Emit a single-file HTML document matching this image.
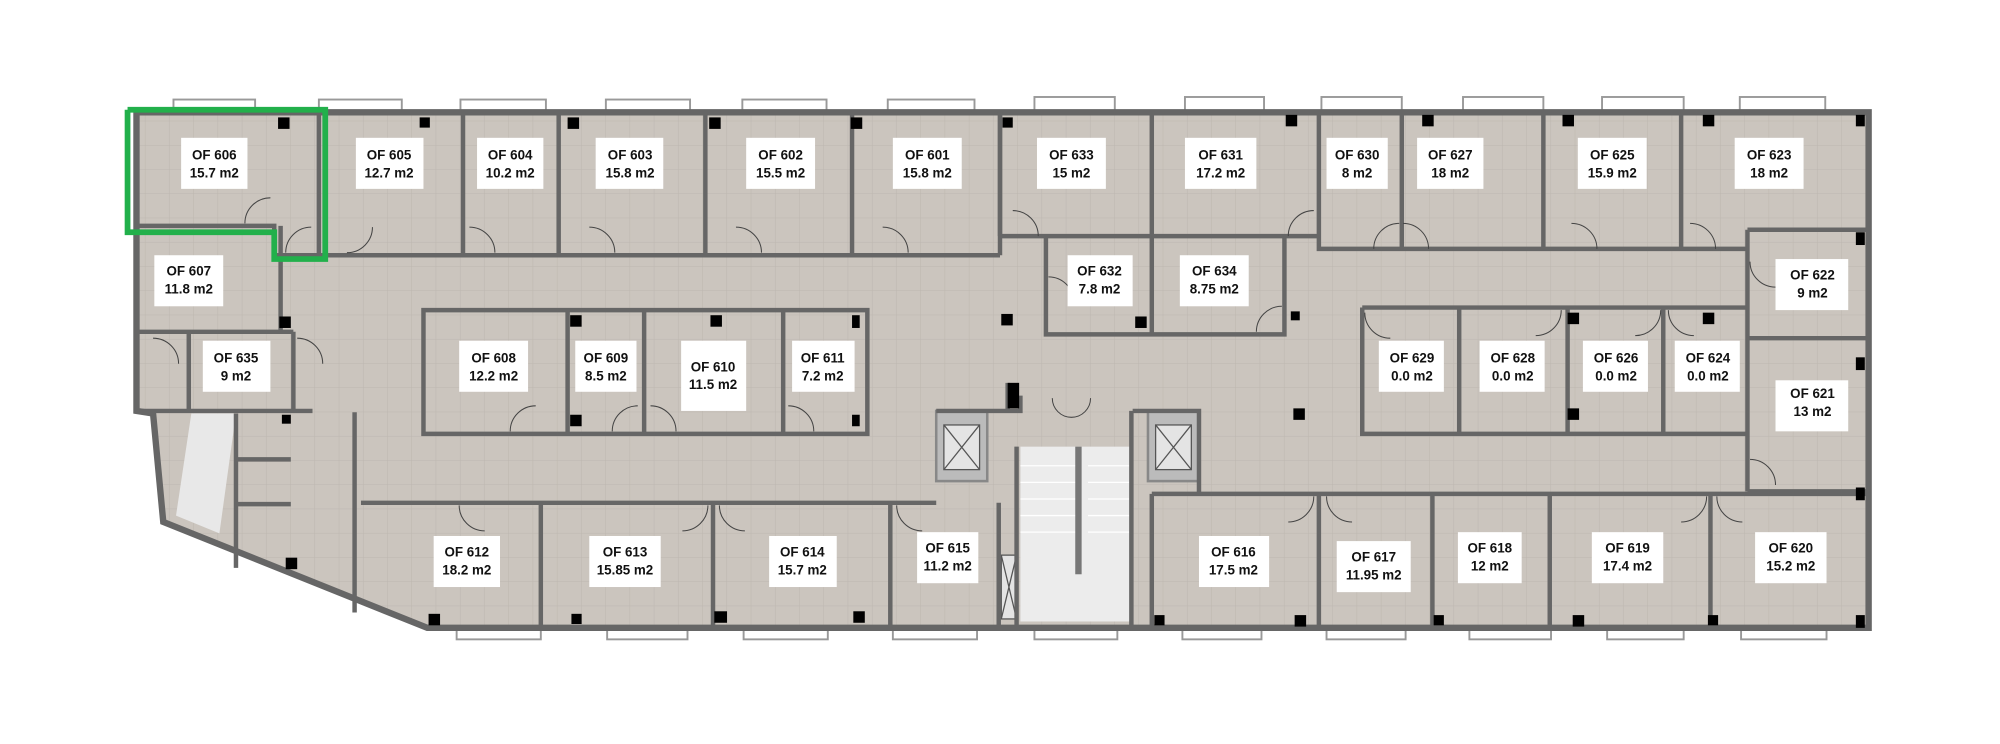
<!DOCTYPE html>
<html><head><meta charset="utf-8"><style>
html,body{margin:0;padding:0;background:#fff;}
svg{display:block}
text{font-family:"Liberation Sans Narrow","Liberation Sans",sans-serif;font-weight:bold;font-size:10.5px;fill:#111;text-anchor:middle}
</style></head><body>
<svg width="2000" height="744" viewBox="0 0 1568 583" preserveAspectRatio="none" xmlns="http://www.w3.org/2000/svg">
<defs>
<pattern id="t" width="19" height="19" patternUnits="userSpaceOnUse">
<rect width="19" height="19" fill="#cbc5be"/>
<path d="M19 0V19H0" fill="none" stroke="#bdb7b0" stroke-width="0.8"/>
</pattern>
</defs>
<polygon points="107,88 1465,88 1465,492 335,492 128,409 120,324 107,322" fill="url(#t)"/>
<!-- marble shaft -->
<polygon points="150,324 185,324 172,418 138,404" fill="#e8e8e8"/>
<!-- stairs -->
<rect x="800" y="350" width="87" height="137" fill="#ececec"/>
<g stroke="#fff" stroke-width="1">
<line x1="800" y1="365" x2="845" y2="365"/><line x1="800" y1="378" x2="845" y2="378"/><line x1="800" y1="391" x2="845" y2="391"/><line x1="800" y1="404" x2="845" y2="404"/><line x1="800" y1="417" x2="845" y2="417"/><line x1="853" y1="365" x2="887" y2="365"/><line x1="853" y1="378" x2="887" y2="378"/><line x1="853" y1="391" x2="887" y2="391"/><line x1="853" y1="404" x2="887" y2="404"/><line x1="853" y1="417" x2="887" y2="417"/>
</g>
<rect x="843" y="350" width="5" height="100" fill="#777"/>
<!-- elevators -->
<g fill="#bbb" stroke="#888" stroke-width="2">
<rect x="734" y="322" width="40" height="55"/><rect x="900" y="322" width="40" height="55"/>
</g>
<g fill="#e4e4e4" stroke="#555" stroke-width="1">
<rect x="740" y="333" width="28" height="35"/><rect x="906" y="333" width="28" height="35"/>
<path d="M740 333L768 368M768 333L740 368M906 333L934 368M934 333L906 368"/>
<rect x="785" y="435" width="12" height="50"/><path d="M785 435L797 485M797 435L785 485"/>
</g>
<!-- windows -->
<g fill="#fff" stroke="#999" stroke-width="1.5">
<rect x="136" y="78" width="64" height="10"/><rect x="250" y="78" width="65" height="10"/><rect x="361" y="78" width="67" height="10"/><rect x="475" y="78" width="66" height="10"/><rect x="582" y="78" width="66" height="10"/><rect x="696" y="78" width="68" height="10"/><rect x="811" y="76" width="63" height="12"/><rect x="929" y="76" width="62" height="12"/><rect x="1036" y="76" width="63" height="12"/><rect x="1147" y="76" width="63" height="12"/><rect x="1256" y="76" width="64" height="12"/><rect x="1364" y="76" width="67" height="12"/>
<rect x="358" y="491" width="66" height="10"/><rect x="476" y="491" width="63" height="10"/><rect x="583" y="491" width="66" height="10"/><rect x="700" y="491" width="66" height="10"/><rect x="811" y="491" width="65" height="10"/><rect x="927" y="491" width="62" height="10"/><rect x="1040" y="491" width="62" height="10"/><rect x="1152" y="491" width="64" height="10"/><rect x="1260" y="491" width="60" height="10"/><rect x="1365" y="491" width="67" height="10"/>
</g>
<!-- outer walls -->
<polyline points="107,88 1465,88 1465,492 335,492 128,409 120,324 107,322 107,88" fill="none" stroke="#666" stroke-width="5"/>
<!-- interior walls -->
<g stroke="#666" stroke-width="3.5" fill="none">
<path d="M107 177H215V200H784"/>
<path d="M250 88V200M363 88V200M438 88V200M553 88V200M668 88V200M784 88V200"/>
<path d="M784 185H1034M784 88V185M903 88V185M1034 88V195H1370M1099 88V195M1210 88V195M1318 88V195"/>
<path d="M1370 180H1465M1370 180V385M1370 265H1465M1370 385H1465"/>
<path d="M820 185V262H1007V185M903 185V262"/>
<path d="M1068 241H1370M1068 241V340H1370M1144 241V340M1229 241V340M1304 241V340"/>
<path d="M332 243H680V340H332ZM445 243V340M505 243V340M614 243V340"/>
<path d="M220 177V260M107 260H230M148 260V322M230 260V322M107 322H245"/>
<path d="M278 323V480M283 394H734M424 394V492M559 394V492M698 394V492M783 394V492"/>
<path d="M185 324V445M185 360H228M185 395H228"/>
<path d="M903 387H1465M903 387V492M1034 387V492M1123 387V492M1215 387V492M1341 387V492M940 387V322H888M734 322H800V310M790 300V322"/>
<path d="M887 322V490M797 350V490"/>
</g>
<!-- doors -->
<g stroke="#444" stroke-width="0.8" fill="none">
<path d="M212 155A20 20 0 0 0 192 175M244 178A20 20 0 0 0 224 198M292 178A20 20 0 0 1 272 198M368 178A20 20 0 0 1 388 198M462 178A20 20 0 0 1 482 198M577 178A20 20 0 0 1 597 198M692 178A20 20 0 0 1 712 198M794 165A20 20 0 0 1 814 185M1030 165A20 20 0 0 0 1010 185M1097 175A20 20 0 0 0 1077 195M1100 175A20 20 0 0 1 1120 195M1232 175A20 20 0 0 1 1252 195M1325 175A20 20 0 0 1 1345 195M1372 205A20 20 0 0 0 1392 225M822 217A20 20 0 0 1 842 237M1005 240A20 20 0 0 0 985 260M420 318A20 20 0 0 0 400 338M500 318A20 20 0 0 0 480 338M510 318A20 20 0 0 1 530 338M618 318A20 20 0 0 1 638 338M1070 245A20 20 0 0 0 1090 265M1224 243A20 20 0 0 1 1204 263M1302 243A20 20 0 0 1 1282 263M1308 243A20 20 0 0 0 1328 263M1372 360A20 20 0 0 1 1392 380M360 396A20 20 0 0 0 380 416M555 396A20 20 0 0 1 535 416M564 396A20 20 0 0 0 584 416M703 396A20 20 0 0 0 723 416M1030 389A20 20 0 0 1 1010 409M1040 389A20 20 0 0 0 1060 409M1338 389A20 20 0 0 1 1318 409M1346 389A20 20 0 0 0 1366 409M120 265A20 20 0 0 1 140 285M233 265A20 20 0 0 1 253 285M825 312A15 15 0 0 0 840 327M855 312A15 15 0 0 1 840 327"/>
</g>
<!-- columns -->
<g fill="#000">
<rect x="218" y="92" width="9" height="9"/><rect x="329" y="92" width="8" height="8"/><rect x="445" y="92" width="9" height="9"/><rect x="556" y="92" width="9" height="9"/><rect x="667" y="92" width="9" height="9"/><rect x="786" y="92" width="8" height="8"/><rect x="1008" y="90" width="9" height="9"/><rect x="1115" y="90" width="9" height="9"/><rect x="1225" y="90" width="9" height="9"/><rect x="1335" y="90" width="9" height="9"/><rect x="1455" y="90" width="7" height="9"/>
<rect x="219" y="248" width="9" height="9"/><rect x="447" y="247" width="9" height="9"/><rect x="557" y="247" width="9" height="9"/><rect x="668" y="247" width="6" height="10"/><rect x="447" y="325" width="9" height="9"/><rect x="668" y="325" width="6" height="9"/>
<rect x="785" y="246" width="9" height="9"/><rect x="890" y="248" width="9" height="9"/><rect x="1012" y="244" width="7" height="7"/><rect x="1014" y="320" width="9" height="9"/><rect x="790" y="300" width="9" height="20"/>
<rect x="1229" y="245" width="9" height="9"/><rect x="1335" y="245" width="9" height="9"/><rect x="1229" y="320" width="9" height="9"/>
<rect x="1455" y="182" width="7" height="10"/><rect x="1455" y="280" width="7" height="10"/><rect x="1455" y="382" width="7" height="10"/><rect x="1455" y="482" width="7" height="10"/>
<rect x="221" y="325" width="7" height="7"/><rect x="224" y="437" width="9" height="9"/><rect x="336" y="481" width="9" height="9"/><rect x="448" y="481" width="8" height="8"/><rect x="560" y="479" width="10" height="9"/><rect x="669" y="479" width="9" height="9"/><rect x="905" y="482" width="8" height="8"/><rect x="1015" y="482" width="9" height="9"/><rect x="1124" y="482" width="8" height="8"/><rect x="1233" y="482" width="9" height="9"/><rect x="1339" y="482" width="8" height="8"/>
</g>
<!-- green outline -->
<polyline points="100,86 255,86 255,203 215,203 215,182 100,182 100,86" fill="none" stroke="#22b04b" stroke-width="4.5"/>
<!-- labels -->
<g id="labels">
<g fill="#fff">
<rect x="142" y="108" width="52" height="40"/><rect x="279" y="108" width="53" height="40"/><rect x="374" y="108" width="52" height="40"/><rect x="467" y="108" width="53" height="40"/><rect x="585" y="108" width="54" height="40"/><rect x="700" y="108" width="54" height="40"/><rect x="813" y="108" width="54" height="40"/><rect x="929" y="108" width="56" height="40"/><rect x="1040" y="108" width="48" height="40"/><rect x="1111" y="108" width="52" height="40"/><rect x="1237" y="108" width="54" height="40"/><rect x="1360" y="108" width="54" height="40"/>
<rect x="121" y="200" width="54" height="40"/><rect x="159" y="267" width="53" height="40"/><rect x="360" y="267" width="54" height="40"/><rect x="451" y="267" width="48" height="40"/><rect x="534" y="267" width="51" height="55"/><rect x="621" y="267" width="49" height="40"/>
<rect x="837" y="200" width="51" height="40"/><rect x="925" y="200" width="54" height="40"/><rect x="1392" y="203" width="57" height="40"/><rect x="1392" y="298" width="57" height="40"/>
<rect x="1081" y="267" width="51" height="40"/><rect x="1160" y="267" width="51" height="40"/><rect x="1241" y="267" width="51" height="40"/><rect x="1313" y="267" width="51" height="40"/>
<rect x="340" y="420" width="52" height="40"/><rect x="462" y="420" width="56" height="40"/><rect x="603" y="420" width="53" height="40"/><rect x="719" y="417" width="48" height="40"/><rect x="940" y="420" width="55" height="40"/><rect x="1048" y="424" width="58" height="40"/><rect x="1143" y="417" width="50" height="40"/><rect x="1248" y="417" width="56" height="40"/><rect x="1376" y="417" width="56" height="40"/>
</g>
<text x="168" y="125">OF 606</text><text x="168" y="139">15.7 m2</text>
<text x="305" y="125">OF 605</text><text x="305" y="139">12.7 m2</text>
<text x="400" y="125">OF 604</text><text x="400" y="139">10.2 m2</text>
<text x="494" y="125">OF 603</text><text x="494" y="139">15.8 m2</text>
<text x="612" y="125">OF 602</text><text x="612" y="139">15.5 m2</text>
<text x="727" y="125">OF 601</text><text x="727" y="139">15.8 m2</text>
<text x="840" y="125">OF 633</text><text x="840" y="139">15 m2</text>
<text x="957" y="125">OF 631</text><text x="957" y="139">17.2 m2</text>
<text x="1064" y="125">OF 630</text><text x="1064" y="139">8 m2</text>
<text x="1137" y="125">OF 627</text><text x="1137" y="139">18 m2</text>
<text x="1264" y="125">OF 625</text><text x="1264" y="139">15.9 m2</text>
<text x="1387" y="125">OF 623</text><text x="1387" y="139">18 m2</text>
<text x="148" y="216">OF 607</text><text x="148" y="230">11.8 m2</text>
<text x="185" y="284">OF 635</text><text x="185" y="298">9 m2</text>
<text x="387" y="284">OF 608</text><text x="387" y="298">12.2 m2</text>
<text x="475" y="284">OF 609</text><text x="475" y="298">8.5 m2</text>
<text x="559" y="291">OF 610</text><text x="559" y="305">11.5 m2</text>
<text x="645" y="284">OF 611</text><text x="645" y="298">7.2 m2</text>
<text x="862" y="216">OF 632</text><text x="862" y="230">7.8 m2</text>
<text x="952" y="216">OF 634</text><text x="952" y="230">8.75 m2</text>
<text x="1421" y="219">OF 622</text><text x="1421" y="233">9 m2</text>
<text x="1421" y="312">OF 621</text><text x="1421" y="326">13 m2</text>
<text x="1107" y="284">OF 629</text><text x="1107" y="298">0.0 m2</text>
<text x="1186" y="284">OF 628</text><text x="1186" y="298">0.0 m2</text>
<text x="1267" y="284">OF 626</text><text x="1267" y="298">0.0 m2</text>
<text x="1339" y="284">OF 624</text><text x="1339" y="298">0.0 m2</text>
<text x="366" y="436">OF 612</text><text x="366" y="450">18.2 m2</text>
<text x="490" y="436">OF 613</text><text x="490" y="450">15.85 m2</text>
<text x="629" y="436">OF 614</text><text x="629" y="450">15.7 m2</text>
<text x="743" y="433">OF 615</text><text x="743" y="447">11.2 m2</text>
<text x="967" y="436">OF 616</text><text x="967" y="450">17.5 m2</text>
<text x="1077" y="440">OF 617</text><text x="1077" y="454">11.95 m2</text>
<text x="1168" y="433">OF 618</text><text x="1168" y="447">12 m2</text>
<text x="1276" y="433">OF 619</text><text x="1276" y="447">17.4 m2</text>
<text x="1404" y="433">OF 620</text><text x="1404" y="447">15.2 m2</text>
</g>
</svg>
</body></html>
